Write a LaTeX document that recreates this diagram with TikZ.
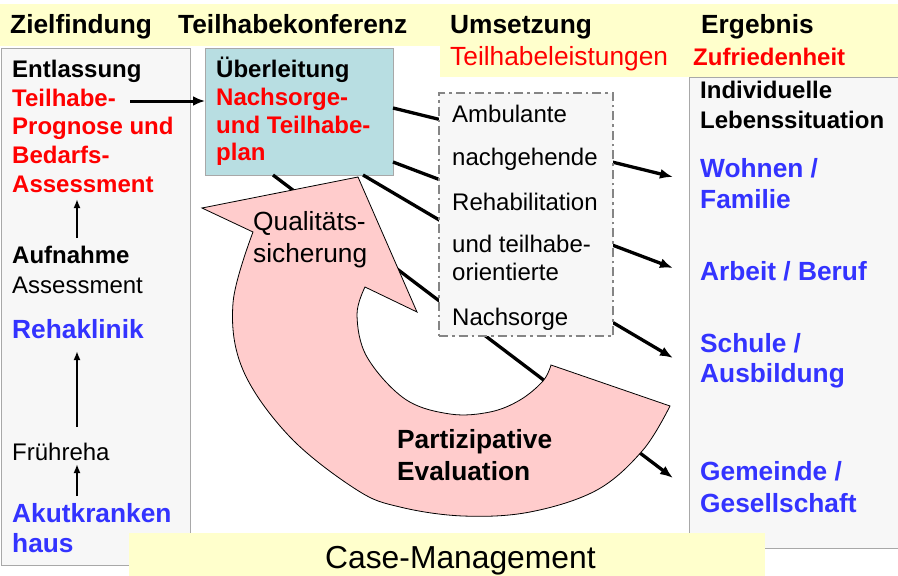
\documentclass[tikz,border=0pt]{standalone}
\usepackage{fontspec}
\setmainfont{Liberation Sans}
\usetikzlibrary{arrows.meta}
\definecolor{hdryellow}{HTML}{FFFFCC}
\definecolor{tealbox}{HTML}{B8DEE2}
\definecolor{greyfill}{HTML}{F7F7F7}
\definecolor{greyline}{HTML}{A8A8A8}
\definecolor{pinkfill}{HTML}{FFCCCC}
\definecolor{txtred}{HTML}{FF0000}
\definecolor{txtblue}{HTML}{3333FF}
\definecolor{dashgrey}{HTML}{858585}
\tikzset{
  t24/.style={anchor=base west,inner sep=0pt,font=\fontsize{24}{28}\selectfont},
  b24/.style={anchor=base west,inner sep=0pt,font=\fontsize{24}{28}\selectfont\bfseries},
  t26/.style={anchor=base west,inner sep=0pt,font=\fontsize{26.3}{30}\selectfont},
  b26/.style={anchor=base west,inner sep=0pt,font=\fontsize{26.3}{30}\selectfont\bfseries},
  t32/.style={anchor=base west,inner sep=0pt,font=\fontsize{31.8}{36}\selectfont},
  panel/.style={anchor=north west,inner sep=0pt,outer sep=0pt,draw=greyline,line width=1pt,fill=greyfill},
  band/.style={anchor=north west,inner sep=0pt,outer sep=0pt,draw=none,fill=hdryellow},
  diag/.style={line width=3.3pt,-{Latex[length=13pt,width=10pt]}},
  harrow/.style={line width=3pt,-{Latex[length=12pt,width=10pt]}},
  varrow/.style={line width=2.4pt,-{Latex[length=9pt,width=7pt]}},
  pinkarrow/.style={fill=pinkfill,draw=black,line width=0.8pt,line join=miter},
  dashbox/.style={anchor=north west,inner sep=0pt,outer sep=0pt,draw=dashgrey,line width=2.8pt,fill=greyfill,dash pattern=on 9pt off 4pt on 2.5pt off 4pt}
}
\begin{document}
\begin{tikzpicture}[x=1pt,y=-1pt]
\useasboundingbox[fill=white] (0,0) rectangle (898,576);

% header bands
\node[band,minimum width=898pt,minimum height=42pt] (hdrL) at (0,4) {};
\node[band,minimum width=458pt,minimum height=73pt] (hdrR) at (440,4) {};

% panels
\node[panel,minimum width=189pt,minimum height=517pt] (leftbox) at (1,48) {};
\node[panel,minimum width=215pt,minimum height=471pt] (rightbox) at (689,77) {};
\node[panel,fill=tealbox,minimum width=188pt,minimum height=127pt] (teal) at (205,48) {};

% connector end points
\coordinate (s1) at (393,108);
\coordinate (s2) at (393,162);
\coordinate (s3) at (363,175);
\coordinate (s4) at (273,175);
\coordinate (e1) at (673,177);
\coordinate (e2) at (673,268);
\coordinate (e3) at (673,358);
\coordinate (e4) at (673,478);

% long arrows from the plan to the outcomes (behind the other shapes)
\draw[diag] (s1) -- (e1);
\draw[diag] (s2) -- (e2);
\draw[diag] (s3) -- (e3);
\draw[diag] (s4) -- (e4);

% circular arrow
\draw[pinkarrow] (670,406)
  -- plot[smooth,tension=0.6] coordinates {(670,406) (643,450) (597,490) (530,512) (463,516) (400,507) (357,490) (290,437) (243,370) (233,303) (253,232)}
  -- (202,208) -- (358,177) -- (417,312) -- (365,287)
  -- plot[smooth,tension=0.6] coordinates {(365,287) (357,315) (367,357) (405,399) (450,414) (490,412) (520,400) (543,381) (551,365)}
  -- cycle;

% dashed box
\node[dashbox,minimum width=174pt,minimum height=243pt] (dbox) at (439,93) {};

% Case-Management band
\node[band,minimum width=636pt,minimum height=45pt] (cmbox) at (129,533) {};

% header texts
\node[b26] (h1) at (10,33) {Zielfindung};
\node[b26] (h2) at (178,33) {Teilhabekonferenz};
\node[b26] (h3) at (450,33) {Umsetzung};
\node[b26] (h4) at (701,33) {Ergebnis};
\node[t26,text=txtred] (h5) at (450,65) {Teilhabeleistungen};
\node[b24,text=txtred] (h6) at (693,65) {Zufriedenheit};

% left panel texts
\node[b24] (l1) at (12,77) {Entlassung};
\node[b24,text=txtred] (l2) at (12,106) {Teilhabe-};
\node[b24,text=txtred] (l3) at (12,134) {Prognose und};
\node[b24,text=txtred] (l4) at (12,163) {Bedarfs-};
\node[b24,text=txtred] (l5) at (12,192) {Assessment};
\node[b24] (l6) at (12,263) {Aufnahme};
\node[t24] (l7) at (12,293) {Assessment};
\node[b26,text=txtblue] (l8) at (12,338) {Rehaklinik};
\node[t24] (l9) at (12,460) {Frühreha};
\node[b26,text=txtblue] (l10) at (12,522) {Akutkranken};
\node[b26,text=txtblue] (l11) at (12,552) {haus};

% left panel arrows
\coordinate (v1s) at (77,238);
\coordinate (v1e) at (77,199);
\coordinate (v2s) at (77,427);
\coordinate (v2e) at (77,351);
\coordinate (v3s) at (77,496);
\coordinate (v3e) at (77,464);
\draw[varrow] (v1s) -- (v1e);
\draw[varrow] (v2s) -- (v2e);
\draw[varrow] (v3s) -- (v3e);
\coordinate (hs) at (130,101);
\draw[harrow] (hs) -- (teal.west |- hs);

% teal box texts
\node[b24] (p1) at (216,77) {Überleitung};
\node[b24,text=txtred] (p2) at (216,105) {Nachsorge-};
\node[b24,text=txtred] (p3) at (216,133) {und Teilhabe-};
\node[b24,text=txtred] (p4) at (216,160) {plan};

% dashed box texts
\node[t24] (d1) at (452,122) {Ambulante};
\node[t24] (d2) at (452,165) {nachgehende};
\node[t24] (d3) at (452,210) {Rehabilitation};
\node[t24] (d4) at (452,252) {und teilhabe-};
\node[t24] (d5) at (452,280) {orientierte};
\node[t24] (d6) at (452,325) {Nachsorge};

% right panel texts
\node[b24] (r1) at (700,98) {Individuelle};
\node[b24] (r2) at (700,128) {Lebenssituation};
\node[b26,text=txtblue] (r3) at (700,177) {Wohnen /};
\node[b26,text=txtblue] (r4) at (700,208) {Familie};
\node[b26,text=txtblue] (r5) at (700,280) {Arbeit / Beruf};
\node[b26,text=txtblue] (r6) at (700,352) {Schule /};
\node[b26,text=txtblue] (r7) at (700,382) {Ausbildung};
\node[b26,text=txtblue] (r8) at (700,480) {Gemeinde /};
\node[b26,text=txtblue] (r9) at (700,512) {Gesellschaft};

% circular arrow texts
\node[t26] (q1) at (253,230) {Qualitäts-};
\node[t26] (q2) at (253,262) {sicherung};
\node[b26] (q3) at (397,448) {Partizipative};
\node[b26] (q4) at (397,480) {Evaluation};

% bottom text
\node[t32] (cm) at (325,568) {Case-Management};
\end{tikzpicture}
\end{document}
